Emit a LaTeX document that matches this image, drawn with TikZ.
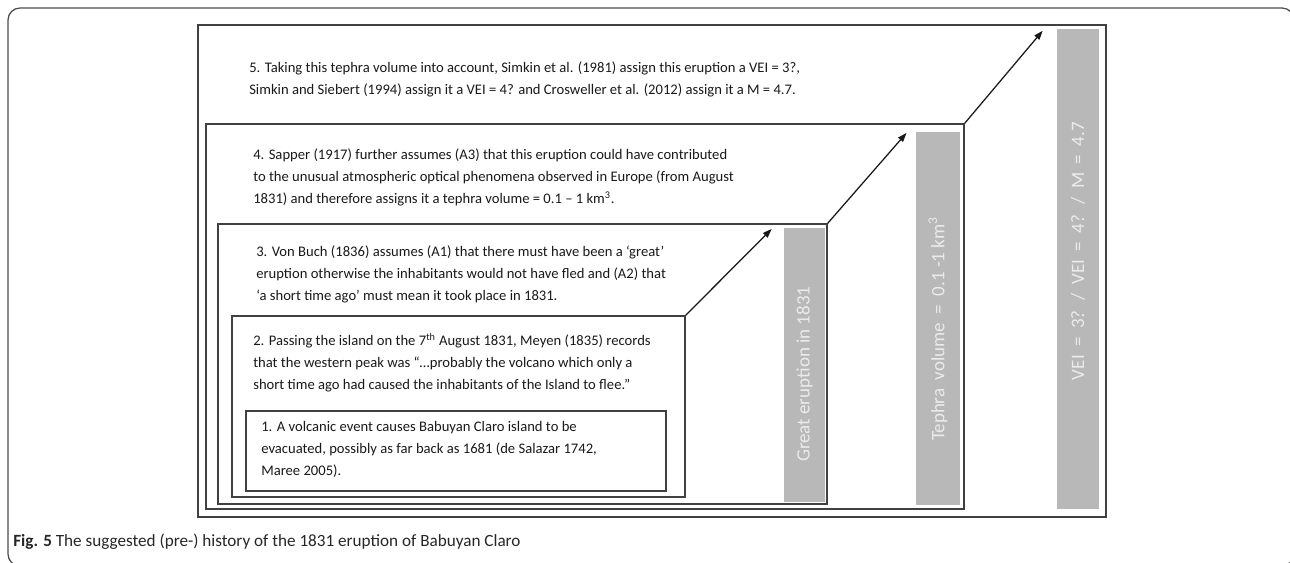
\documentclass[tikz,border=0pt]{standalone}
\usepackage{fontspec}
\setmainfont{Carlito}
\usetikzlibrary{fit,arrows.meta}

\tikzset{
  box/.style={draw=black!75, line width=0.9pt, inner sep=0pt},
  bar/.style={fill=black!28, inner sep=0pt},
  txt/.style={anchor=north west, align=left, inner sep=0pt, text=black!90,
    font=\fontsize{10.4}{15.5}\selectfont},
  bartxt/.style={rotate=90, text=white!92!black, inner sep=0pt,
    font=\fontsize{13.5}{15}\selectfont},
  link/.style={-{Triangle[length=6.5pt,width=4.5pt]}, line width=0.9pt, black!90}
}

\begin{document}
\begin{tikzpicture}[x=0.025cm, y=-0.025cm]
  \useasboundingbox (0,0) rectangle (1290,563);
  \clip (0,0) rectangle (1290,563);

  % outer frame of the figure
  \draw[black!70, line width=0.9pt, rounded corners=0.3cm]
    (8,8) rectangle (1294,566);

  % nested boxes, outer to inner
  \node[box, fit={(198,25) (1106,517)}] (b5) {};
  \node[box, fit={(206,124) (964,509)}] (b4) {};
  \node[box, fit={(218,224) (827,504)}] (b3) {};
  \node[box, fit={(232,316) (685,497)}] (b2) {};
  \node[box, fit={(246,411) (666,491)}] (b1) {};

  % grey bars
  \node[bar, fit={(784,228) (825,502)}] (g1) {};
  \node[bar, fit={(916,132) (960,505)}] (g2) {};
  \node[bar, fit={(1057,29) (1099,509)}] (g3) {};

  \node[bartxt] (l1) at ([yshift=-0.23cm]g1.center) {Great eruption in 1831};
  \node[bartxt] (l2) at ([yshift=-0.26cm]g2.center) {Tephra~ volume~ =~ 0.1 -1 km\textsuperscript{3}};
  \node[bartxt] (l3) at ([yshift=0.45cm]g3.center) {\spaceskip=0.45em VEI = 3? / VEI = 4? / M = 4.7};

  % texts
  \node[txt] (t5) at (249,62) {5. Taking this tephra volume into account, Simkin et al. (1981) assign this eruption a VEI = 3?,\\
    Simkin and Siebert (1994) assign it a VEI = 4? and Crosweller et al. (2012) assign it a M = 4.7.};
  \node[txt] (t4) at (253,149) {4. Sapper (1917) further assumes (A3) that this eruption could have contributed\\
    to the unusual atmospheric optical phenomena observed in Europe (from August\\
    1831) and therefore assigns it a tephra volume = 0.1 -- 1 km\textsuperscript{3}.};
  \node[txt] (t3) at (256,246) {3. Von Buch (1836) assumes (A1) that there must have been a ‘great’\\
    eruption otherwise the inhabitants would not have fled and (A2) that\\
    ‘a short time ago’ must mean it took place in 1831.};
  \node[txt] (t2) at (253,333) {2. Passing the island on the 7\textsuperscript{th} August 1831, Meyen (1835) records\\
    that the western peak was “…probably the volcano which only a\\
    short time ago had caused the inhabitants of the Island to flee.”};
  \node[txt] (t1) at (261,421) {1. A volcanic event causes Babuyan Claro island to be\\
    evacuated, possibly as far back as 1681 (de Salazar 1742,\\
    Maree 2005).};

  % arrows
  \coordinate (a1) at ([xshift=-0.3cm,yshift=-0.03cm]g1.north west);
  \coordinate (a2) at ([xshift=-0.23cm,yshift=-0.03cm]g2.north west);
  \coordinate (a3) at ([xshift=-0.35cm,yshift=-0.05cm]g3.north west);
  \draw[link] (b2.north east) -- (a1);
  \draw[link] (b3.north east) -- (a2);
  \draw[link] (b4.north east) -- (a3);

  % caption
  \node[anchor=base west, inner sep=0pt, text=black!85, font=\fontsize{12.2}{14}\selectfont] (cap) at (13,546)
    {\textbf{Fig. 5} The suggested (pre-) history of the 1831 eruption of Babuyan Claro};
\end{tikzpicture}
\end{document}
